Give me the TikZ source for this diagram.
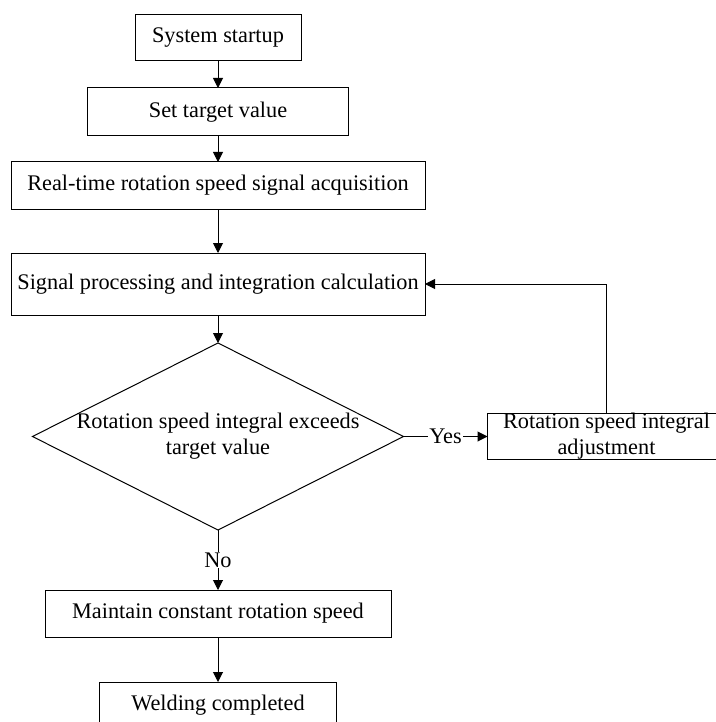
\documentclass[tikz,border=0pt]{standalone}
\usepackage{fontspec}
\setmainfont{Liberation Serif}
\usetikzlibrary{positioning}
\usetikzlibrary{arrows.meta}
\usetikzlibrary{shapes.geometric}

\begin{document}
\begin{tikzpicture}[
    stepbox/.style={rectangle, draw, line width=1pt, minimum height=46pt, inner sep=0pt, outer sep=0pt, font=\fontsize{22.3}{26}\selectfont, align=center},
    decision/.style={diamond, draw, line width=1pt, minimum width=371pt, minimum height=187pt, inner sep=0pt, outer sep=0pt},
    flowlabel/.style={fill=white, inner sep=1pt, font=\fontsize{22.3}{26}\selectfont},
    >={Triangle[length=10pt,width=10pt]}
]
    \useasboundingbox (0,0) rectangle (715pt,-722pt);
    \node[stepbox, minimum width=166pt] (start) at (218pt,-38pt) {System startup};
    \node[stepbox, minimum width=261pt, minimum height=48pt, below=27pt of start] (target) {Set target value};
    \node[stepbox, minimum width=414pt, minimum height=47pt, below=26pt of target] (acq) {Real-time rotation speed signal acquisition};
    \node[stepbox, minimum width=414pt, minimum height=62pt, below=44pt of acq] (proc) {Signal processing and integration calculation};
    \node[decision, below=28pt of proc] (dec) {};
    \node[align=center, inner sep=0pt, font=\fontsize{22.3}{26}\selectfont] (dectext) at (dec) {Rotation speed integral exceeds\\target value};
    \node[stepbox, minimum width=238pt, right=84pt of dec] (adj) {Rotation speed integral\\adjustment};
    \node[stepbox, minimum width=346pt, minimum height=47pt, below=60pt of dec] (keep) {Maintain constant rotation speed};
    \node[stepbox, minimum width=237pt, below=45pt of keep] (done) {Welding completed};

    \draw[->, line width=1pt] (start) -- (target);
    \draw[->, line width=1pt] (target) -- (acq);
    \draw[->, line width=1pt] (acq) -- (proc);
    \draw[->, line width=1pt] (proc) -- (dec);
    \draw[->, line width=1pt] (dec.east) -- node[flowlabel] {Yes} (adj.west);
    \draw[->, line width=1pt] (adj.north) |- (proc.east);
    \draw[->, line width=1pt] (dec.south) -- node[flowlabel] {No} (keep.north);
    \draw[->, line width=1pt] (keep) -- (done);
\end{tikzpicture}
\end{document}
